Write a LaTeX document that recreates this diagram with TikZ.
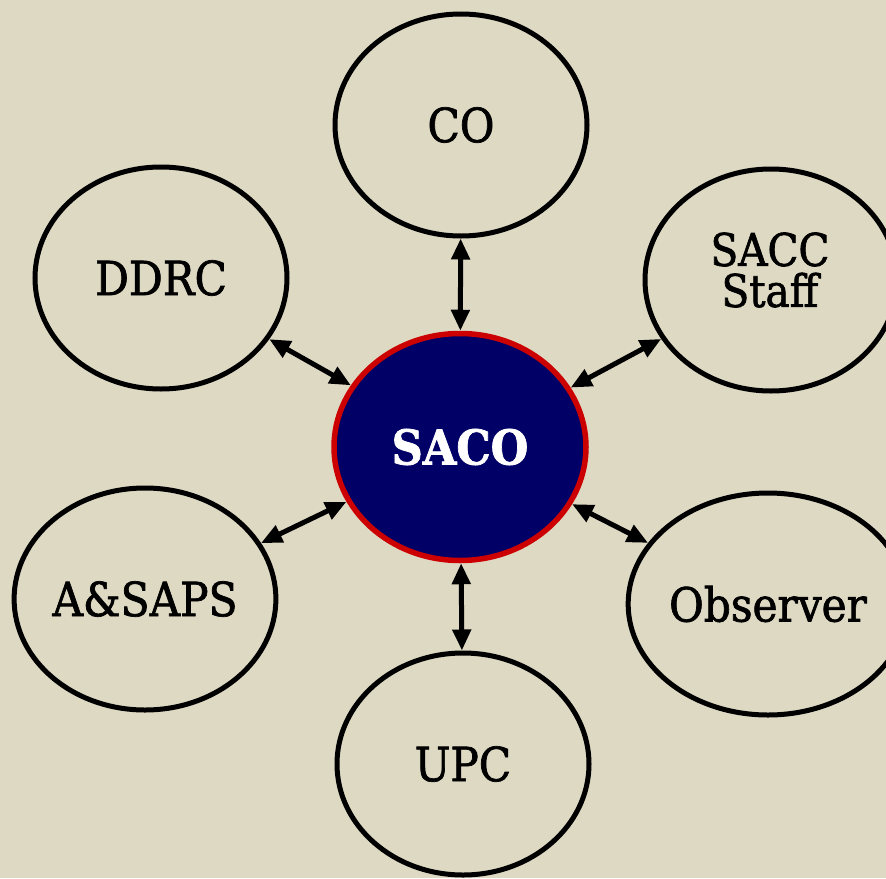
\documentclass[tikz,border=0pt]{standalone}
\usepackage{fontspec}
\setmainfont{DejaVu Serif Condensed}[FakeBold=1.5]
\usetikzlibrary{arrows.meta,shapes.geometric}
\definecolor{bg}{HTML}{DDD9C3}
\definecolor{navy}{HTML}{000066}
\definecolor{hubred}{HTML}{CC0000}
\begin{document}
\begin{tikzpicture}[x=1pt,y=-1pt,
  bubble/.style={ellipse,draw=black,line width=5pt,minimum width=252pt,minimum height=222pt,
    inner sep=0pt,align=center,font=\fontsize{47}{40}\selectfont},
  hub/.style={bubble,draw=hubred,fill=navy,text=white,line width=5.5pt,minimum height=227pt,
    font=\fontsize{48}{40}\selectfont\bfseries},
  lbl/.style={inner sep=0pt,align=center,font=\fontsize{45}{41}\selectfont},
  link/.style={{Triangle[length=21pt,width=18pt]}-{Triangle[length=21pt,width=18pt]},line width=5pt}]
\useasboundingbox (0,0) rectangle (886,878);
\fill[bg] (0,0) rectangle (886,878);
\clip (0,0) rectangle (886,878);
\node[hub] (saco) at (460,447) {SACO};
\node[bubble] (co) at (461,125) {CO};
\node[bubble] (ddrc) at (161,278) {DDRC};
\node[bubble] (sacc) at (771,280) {};
\node[lbl] (sacctext) at (770,270) {SACC\\Staff};
\node[bubble] (asaps) at (145,599) {A\&SAPS};
\node[bubble] (obs) at (768,604) {\raisebox{-4pt}{Observer}};
\node[bubble] (upc) at (463,764) {UPC};
\draw[link] (co) -- (saco);
\draw[link] (ddrc) -- (saco);
\draw[link] (sacc) -- (saco);
\draw[link] (asaps) -- (saco);
\draw[link] (obs) -- (saco);
\draw[link] (upc) -- (saco);
\end{tikzpicture}
\end{document}
